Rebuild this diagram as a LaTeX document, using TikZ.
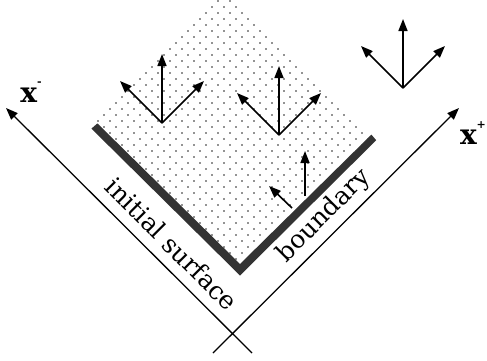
\documentclass[tikz,border=0pt]{standalone}
\usepackage{fontspec}
\setmainfont{DejaVu Serif}
\usetikzlibrary{arrows.meta}
\tikzset{
  axis/.style={line width=1.3pt,-{Triangle[length=12pt,width=9pt]}},
  vec/.style={line width=1.6pt,-{Triangle[length=12pt,width=9pt]}},
  lbl/.style={inner sep=0pt,font=\fontsize{25}{30}\selectfont},
  axlbl/.style={inner sep=0pt,font=\fontsize{28}{30}\selectfont\bfseries},
  dot/.style={fill=black!85},
  band/.style={fill=black!80}
}
\begin{document}
\begin{tikzpicture}[x=1pt,y=-1pt]
\useasboundingbox (0,0) rectangle (487,360);
% dotted region (rotated square)
\coordinate (L) at (96,122);
\coordinate (B) at (240,266);
\coordinate (R) at (370,136);
\coordinate (T) at (226,-8);
\begin{scope}
\clip (L) -- (B) -- (R) -- (T) -- cycle;
\foreach \j in {0,...,23}{
  \foreach \k in {0,...,24}{
    \fill[dot] (86+12*\k,1+12*\j) circle (0.9pt);
    \fill[dot] (92+12*\k,7+12*\j) circle (0.9pt);
  }
}
\end{scope}
% boundary band
\coordinate (Li) at (97.4,123.4);
\coordinate (Bi) at (240,264);
\coordinate (Ri) at (371.4,134.6);
\coordinate (Lo) at (91.4,128.6);
\coordinate (Bo) at (240,275.5);
\coordinate (Ro) at (376.2,140.2);
\fill[band] (Li) -- (Bi) -- (Ri) -- (Ro) -- (Bo) -- (Lo) -- cycle;
% axes
\coordinate (am0) at (252,353);
\coordinate (am1) at (6,108);
\coordinate (ap0) at (213,353);
\coordinate (ap1) at (459,108);
\draw[axis] (am0) -- (am1);
\draw[axis] (ap0) -- (ap1);
\node[axlbl] (xm) at (31,92) {x\raisebox{0.6em}{\fontsize{11}{11}\selectfont -}};
\node[axlbl] (xp) at (473,133) {x\raisebox{0.55em}{\fontsize{11}{11}\selectfont +}};
% labels
\node[lbl,rotate=-45] (init) at (172,244) {initial surface};
\node[lbl,rotate=45] (bd) at (324,216) {boundary};
% vector triples
\foreach \n/\ox/\oy in {a/162/123, b/279/135, c/403/88}{
  \coordinate (\n o) at (\ox,\oy);
  \coordinate (\n u) at (\ox,\oy-69);
  \coordinate (\n l) at (\ox-42,\oy-42);
  \coordinate (\n r) at (\ox+42,\oy-42);
  \draw[vec] (\n o) -- (\n u);
  \draw[vec] (\n o) -- (\n l);
  \draw[vec] (\n o) -- (\n r);
}
% small vectors near boundary
\coordinate (s1o) at (305,196);
\coordinate (s1t) at (305,151);
\coordinate (s2o) at (292,208);
\coordinate (s2t) at (269,186);
\draw[vec] (s1o) -- (s1t);
\draw[vec] (s2o) -- (s2t);
\end{tikzpicture}
\end{document}
